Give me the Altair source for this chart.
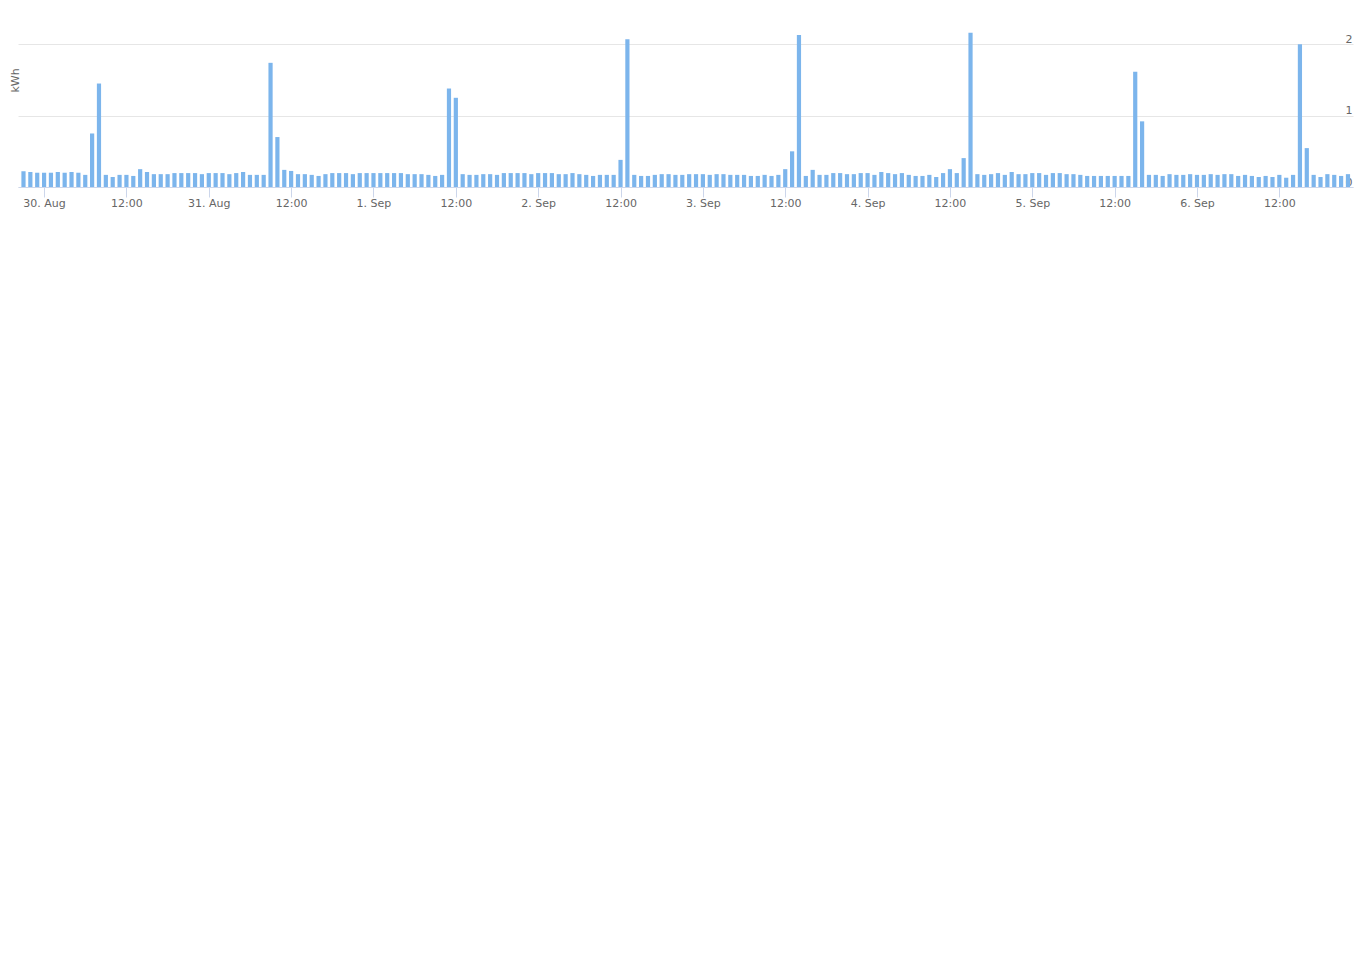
import altair as alt
import pandas as pd

# hourly energy use, first bar 29 Aug 21:00, last bar 6 Sep 22:00
start_time = "2021-08-29 21:00"
kwh = [
    0.22, 0.21, 0.20, 0.20, 0.20, 0.21, 0.20, 0.21, 0.20, 0.17,
    0.75, 1.45, 0.17, 0.14, 0.17, 0.17, 0.155, 0.25, 0.21, 0.18,
    0.18, 0.18, 0.195, 0.195, 0.195, 0.195, 0.18, 0.195, 0.195, 0.195,
    0.18, 0.195, 0.21, 0.17, 0.17, 0.17, 1.74, 0.70, 0.24, 0.225,
    0.18, 0.18, 0.17, 0.155, 0.18, 0.195, 0.195, 0.195, 0.18, 0.195,
    0.195, 0.195, 0.195, 0.195, 0.195, 0.195, 0.18, 0.18, 0.18, 0.17,
    0.155, 0.17, 1.38, 1.25, 0.18, 0.17, 0.17, 0.18, 0.18, 0.17,
    0.195, 0.195, 0.195, 0.195, 0.18, 0.195, 0.195, 0.195, 0.18, 0.18,
    0.195, 0.18, 0.17, 0.155, 0.17, 0.17, 0.17, 0.38, 2.07, 0.17,
    0.155, 0.155, 0.17, 0.18, 0.18, 0.17, 0.17, 0.18, 0.18, 0.18,
    0.17, 0.18, 0.18, 0.17, 0.17, 0.17, 0.155, 0.155, 0.17, 0.155,
    0.17, 0.25, 0.50, 2.13, 0.155, 0.24, 0.17, 0.17, 0.195, 0.195,
    0.18, 0.18, 0.195, 0.195, 0.17, 0.21, 0.195, 0.18, 0.195, 0.17,
    0.155, 0.155, 0.17, 0.14, 0.195, 0.25, 0.195, 0.405, 2.16, 0.18,
    0.17, 0.18, 0.195, 0.17, 0.21, 0.18, 0.18, 0.195, 0.195, 0.17,
    0.195, 0.195, 0.18, 0.18, 0.17, 0.155, 0.155, 0.155, 0.155, 0.155,
    0.155, 0.155, 1.615, 0.92, 0.17, 0.17, 0.155, 0.18, 0.17, 0.17,
    0.18, 0.17, 0.17, 0.18, 0.17, 0.18, 0.18, 0.155, 0.17, 0.155,
    0.14, 0.155, 0.14, 0.17, 0.13, 0.17, 2.00, 0.545, 0.17, 0.14,
    0.18, 0.17, 0.155, 0.18,
]

# x-axis ticks every 12 hours (30 Aug 00:00 ... 6 Sep 12:00)
tick_days = [(8, 30), (8, 31), (9, 1), (9, 2), (9, 3), (9, 4), (9, 5), (9, 6)]
tick_hours = [0, 12]
y_ticks = [0, 1, 2]

times = pd.date_range(start_time, periods=len(kwh), freq="h")
df = pd.DataFrame({"time": times.strftime("%Y-%m-%dT%H:%M:%S"), "kwh": kwh})

tick_values = [alt.DateTime(year=2021, month=m, date=d, hours=h)
               for (m, d) in tick_days for h in tick_hours]

W, H = 1335, 157
FONT = "DejaVu Sans"

x_axis = alt.Axis(
    values=tick_values,
    labelExpr="hours(datum.value) == 0 ? timeFormat(datum.value, '%-d. %b') : timeFormat(datum.value, '%H:%M')",
    title=None,
    grid=False,
    domainColor="#ccd6eb",
    tickColor="#ccd6eb",
    tickSize=10,
    labelColor="#666666",
    labelFont=FONT,
    labelFontSize=11,
    labelPadding=0,
    labelFlush=False,
    labelOverlap=False,
)

y_axis = alt.Axis(
    orient="right",
    values=y_ticks,
    grid=True,
    gridColor="#e6e6e6",
    domain=False,
    ticks=False,
    tickSize=0,
    labelAlign="right",
    labelBaseline="bottom",
    labelPadding=-1,
    labelColor="#666666",
    labelFont=FONT,
    labelFontSize=11,
    title="kWh",
    titleAngle=270,
    titleAlign="center",
    titleBaseline="middle",
    titleX=-(W + 3),
    titleY=50,
    titleColor="#666666",
    titleFont=FONT,
    titleFontSize=11,
    titleFontWeight="normal",
)

chart = (
    alt.Chart(df)
    .mark_bar(color="#7cb5ec", size=4.2)
    .encode(
        x=alt.X(
            "time:T",
            axis=x_axis,
            scale=alt.Scale(
                domain=[
                    alt.DateTime(year=2021, month=8, date=29, hours=20, minutes=12),
                    alt.DateTime(year=2021, month=9, date=6, hours=22, minutes=44),
                ],
                padding=0,
            ),
        ),
        y=alt.Y("kwh:Q", axis=y_axis, scale=alt.Scale(domain=[0, 2.2], nice=False)),
    )
    .properties(
        width=W,
        height=H,
        background="white",
        autosize=alt.AutoSizeParams(type="none"),
        padding={"left": 10, "top": 22, "right": 2, "bottom": 40},
    )
    .configure_view(strokeWidth=0, stroke="transparent")
)

chart.save("out.html", embed_options={"renderer": "svg", "actions": False})
